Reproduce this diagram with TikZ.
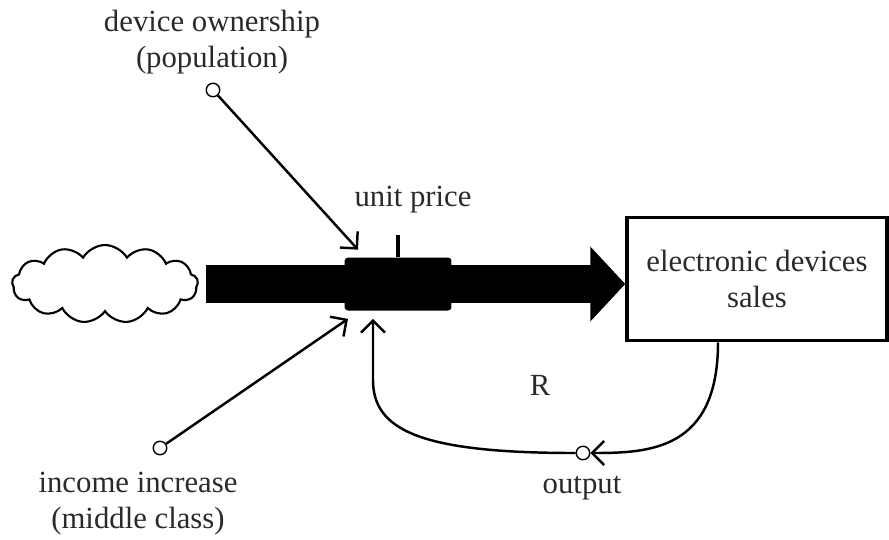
\documentclass[tikz,border=0pt]{standalone}
\usepackage{fontspec}
\setmainfont{Liberation Serif}
\usetikzlibrary{shapes.symbols,arrows.meta,positioning}
\definecolor{inkgray}{HTML}{2A2A2A}
\tikzset{
  lbl/.style={text=inkgray, font=\fontsize{17.5}{20.5}\selectfont, align=center, inner sep=1pt},
  auxcirc/.style={circle, draw, line width=0.8pt, minimum size=0.27cm, inner sep=0pt, fill=white},
  link/.style={line width=1.4pt, -{Straight Barb[length=2.4mm,width=4.8mm]}},
}
\begin{document}
\begin{tikzpicture}[x=0.02cm, y=-0.02cm]
\useasboundingbox (0,0) rectangle (889,539);
% source cloud and stock
\node[cloud, draw, line width=1.2pt, cloud puffs=13, cloud puff arc=120, aspect=2.4,
      minimum width=3.72cm, minimum height=1.56cm, inner sep=0pt] (source) at (105,284) {};
\node[draw, line width=2pt, minimum width=5.2cm, minimum height=2.46cm, lbl] (sales) at (757,279)
  {electronic devices\\ sales};
% flow pipe with valve
\draw[line width=0.76cm, shorten <=0.14cm, -{Triangle[length=0.7cm,width=1.46cm]}]
  (source.east) -- (source.east -| sales.west);
\node[fill=black, rounded corners=2pt, minimum width=2.14cm, minimum height=1.06cm] (valve) at (398,284) {};
\draw[line width=1.8pt] (valve.north) -- ++(0,-22);
\node[lbl] (pricelbl) at (413,200) {unit price};
% auxiliaries
\node[auxcirc] (own) at (213,90) {};
\node[lbl] (ownlbl) at (212,42) {device ownership\\ (population)};
\node[auxcirc] (income) at (160,448) {};
\node[lbl] (incomelbl) at (138,504) {income increase\\ (middle class)};
\node[auxcirc] (out) at (583,453) {};
\node[lbl] (outlbl) at (582,488) {output};
\node[lbl] (loop) at (540,385) {R};
% links
\draw[link] (own) -- ([xshift=-0.8cm,yshift=0.15cm]valve.north);
\draw[link] (income) -- ([xshift=-1.0cm,yshift=-0.16cm]valve.south);
\draw[link] ([xshift=-0.78cm]sales.south) .. controls (718,450) and (650,453) .. (out.east);
\draw[link] (out.west) .. controls (420,453) and (373,430) .. (373,380) -- ([xshift=-0.5cm,yshift=-0.16cm]valve.south);
\end{tikzpicture}
\end{document}
